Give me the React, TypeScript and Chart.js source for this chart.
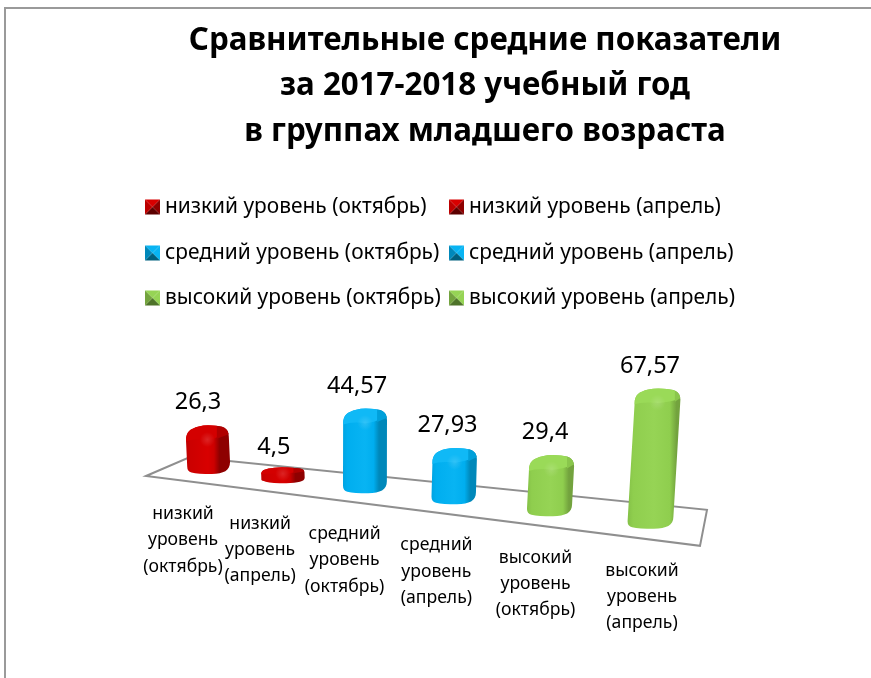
import React, { useEffect, useRef } from "react";
import { Chart, registerables } from "chart.js";

Chart.register(...registerables);

const titleLines = [
  "Сравнительные средние показатели",
  "за 2017-2018 учебный год",
  "в группах младшего возраста",
];
const categories = [
  "низкий уровень (октябрь)",
  "низкий уровень (апрель)",
  "средний уровень (октябрь)",
  "средний уровень (апрель)",
  "высокий уровень (октябрь)",
  "высокий уровень (апрель)",
];
const values = [26.3, 4.5, 44.57, 27.93, 29.4, 67.57];
const red = { main: "#CC0000", light: "#D80000", edge: "#BC0000", side: "#8E0000", cap: "#D40000", capSide: "#B00000", low: "#5C0000" };
const blue = { main: "#00AEEF", light: "#08B4F3", edge: "#00A2E0", side: "#0088BA", cap: "#10B9F6", capSide: "#00A0DA", low: "#00607F" };
const green = { main: "#8FCE4E", light: "#96D455", edge: "#82BE46", side: "#73A33E", cap: "#9ADA58", capSide: "#8AC64C", low: "#4E7329" };
const palettes = [red, red, blue, blue, green, green];

const FONT = "'Noto Sans', sans-serif";
const fmt = (v: number) => String(v).replace(".", ",");

const projection = {
  id: "projection",
  afterLayout(chart: any) {
    const center = 485;
    chart.titleBlock.left = center - 340;
    chart.titleBlock.right = center + 340;
  },
  afterDatasetsUpdate(chart: any) {
    const xs = chart.scales.x;
    const ys = chart.scales.y;
    const x0 = xs.getPixelForValue(0);
    const span = xs.getPixelForValue(5) - x0;
    const y0 = ys.getPixelForValue(0);
    const unit = y0 - ys.getPixelForValue(1);
    chart.getDatasetMeta(0).data.forEach((el: any) => {
      const t = (el.x - x0) / span;
      const X = x0 + span * (t - 0.2 * t * (1 - t));
      const tp = (X - x0) / span;
      const base = y0 + 0.123 * (X - x0);
      const h = Math.max(16, 4 + (y0 - el.y) * ((1.7 + 0.32 * tp) / unit));
      el.$tp = tp;
      el.x = X;
      el.base = base;
      el.y = base - h;
      el.width = el.width * (1 + 0.07 * tp);
    });
  },
  beforeDraw(chart: any) {
    const ctx = chart.ctx;
    ctx.save();
    ctx.strokeStyle = "#9a9a9a";
    ctx.lineWidth = 2;
    ctx.beginPath();
    ctx.moveTo(5, chart.height);
    ctx.lineTo(5, 8);
    ctx.lineTo(chart.width, 8);
    ctx.stroke();
    ctx.restore();
    drawLegend(chart);
  },
  beforeDatasetsDraw(chart: any) {
    const ctx = chart.ctx;
    const d = chart.getDatasetMeta(0).data;
    const a = d[0];
    const b = d[5];
    ctx.save();
    ctx.strokeStyle = "#8f8f8f";
    ctx.lineWidth = 2;
    ctx.lineJoin = "miter";
    ctx.beginPath();
    ctx.moveTo(a.x - 62, a.base + 2);
    ctx.lineTo(a.x - 18, a.base - 17);
    ctx.lineTo(b.x + 53, b.base - 19);
    ctx.lineTo(b.x + 46, b.base + 17);
    ctx.closePath();
    ctx.stroke();
    ctx.restore();
  },
  beforeDatasetDraw(chart: any) {
    const ctx = chart.ctx;
    chart.getDatasetMeta(0).data.forEach((el: any, i: number) => drawBar(ctx, el, palettes[i]));
    return false;
  },
  afterDatasetsDraw(chart: any) {
    const ctx = chart.ctx;
    const d = chart.getDatasetMeta(0).data;
    ctx.save();
    ctx.fillStyle = "#000";
    ctx.textAlign = "center";
    ctx.textBaseline = "middle";
    d.forEach((el: any, i: number) => {
      const dx = -10 + 6 * el.$tp;
      ctx.font = `23.5px ${FONT}`;
      ctx.fillText(fmt(values[i]), el.x + dx, el.y - (values[i] < 10 ? 20 : 22.5));
      const lines = categories[i].split(" ");
      ctx.font = `17.6px ${FONT}`;
      const lx = el.x - 25 + 13 * el.$tp;
      lines.forEach((line, j) => ctx.fillText(line, lx, el.base + 40 + 2 * el.$tp + j * 26.3));
    });
    ctx.restore();
  },
};

function drawLegend(chart: any) {
  const ctx = chart.ctx;
  const cols = [145, 449];
  const rows = [207, 253, 298];
  ctx.save();
  ctx.font = `20.9px ${FONT}`;
  ctx.textBaseline = "middle";
  ctx.textAlign = "left";
  categories.forEach((label, i) => {
    const x = cols[i % 2];
    const y = rows[Math.floor(i / 2)];
    const p = palettes[i];
    const s = 15;
    const l = x;
    const t = y - 7.5;
    const cx = l + s / 2;
    const cy = t + s / 2;
    const faces: [number[], string][] = [
      [[l, t, l + s, t], p.light],
      [[l + s, t, l + s, t + s], p === red ? p.side : p.light],
      [[l + s, t + s, l, t + s], p.low],
      [[l, t + s, l, t], p === red ? p.edge : p.side],
    ];
    faces.forEach(([q, color]) => {
      ctx.fillStyle = color;
      ctx.beginPath();
      ctx.moveTo(q[0], q[1]);
      ctx.lineTo(q[2], q[3]);
      ctx.lineTo(cx, cy);
      ctx.closePath();
      ctx.fill();
    });
    ctx.fillStyle = "#000";
    ctx.fillText(label, x + 20, y);
  });
  ctx.restore();
}

function drawBar(ctx: any, el: any, p: any) {
  const tp = el.$tp;
  const hw = el.width / 2;
  const top = el.y;
  const bot = el.base;
  const h = bot - top;
  const lean = (-0.025 + 0.075 * tp) * h;
  const xb = el.x - lean / 2;
  const xt = el.x + lean / 2;
  const r = Math.min(15, h * 0.42);
  ctx.save();
  ctx.beginPath();
  ctx.moveTo(xt - hw, top + r);
  ctx.bezierCurveTo(xt - hw, top + r * 0.45, xt - hw * 0.8, top + r * 0.22, xt - hw * 0.4, top + r * 0.08);
  ctx.quadraticCurveTo(xt - hw * 0.1, top - 0.5, xt + hw * 0.25, top + 0.3);
  ctx.bezierCurveTo(xt + hw * 0.7, top + 0.8, xt + hw, top + r * 0.15, xt + hw, top + r * 0.75);
  ctx.lineTo(xb + hw, bot - r * 0.8);
  ctx.bezierCurveTo(xb + hw, bot - r * 0.2, xb + hw * 0.7, bot - 0.5, xb + hw * 0.15, bot);
  ctx.quadraticCurveTo(xb - hw * 0.5, bot, xb - hw * 0.8, bot - 1.5);
  ctx.quadraticCurveTo(xb - hw, bot - 2.5, xb - hw, bot - r * 0.5);
  ctx.closePath();
  ctx.clip();

  const minX = Math.min(xb, xt) - hw - 1;
  const maxX = Math.max(xb, xt) + hw + 1;
  const sideAt = 0.7 + 0.16 * tp;
  const g = ctx.createLinearGradient(minX, 0, maxX, 0);
  g.addColorStop(0, p.edge);
  g.addColorStop(0.12, p.main);
  g.addColorStop(0.5, p.light);
  g.addColorStop(sideAt - 0.07, p.main);
  g.addColorStop(sideAt + 0.05, p.side);
  g.addColorStop(1, p.side);
  ctx.fillStyle = g;
  ctx.fillRect(minX, top - 1, maxX - minX, h + 2);

  const sideX = xt - hw + 2 * hw * (sideAt + 0.02);
  ctx.fillStyle = p.capSide;
  ctx.beginPath();
  ctx.moveTo(sideX, top - 1);
  ctx.lineTo(xt + hw + 2, top - 1);
  ctx.lineTo(xt + hw + 2, top + r * 0.55);
  ctx.lineTo(sideX, top + r * 0.9);
  ctx.closePath();
  ctx.fill();

  ctx.fillStyle = p.cap;
  ctx.beginPath();
  ctx.moveTo(xt - hw - 2, top - 1);
  ctx.lineTo(sideX, top - 1);
  ctx.lineTo(sideX, top + r * 0.8);
  ctx.quadraticCurveTo(xt + hw * 0.15, top + r * 1.02, xt, top + r * 0.98);
  ctx.quadraticCurveTo(xt - hw * 0.6, top + r * 0.85, xt - hw - 2, top + r * 1.1);
  ctx.closePath();
  ctx.fill();

  const spot = ctx.createRadialGradient(xt, top + r * 0.95, 0, xt, top + r * 0.95, hw * 0.35);
  spot.addColorStop(0, "rgba(255,255,255,0.14)");
  spot.addColorStop(1, "rgba(255,255,255,0)");
  ctx.fillStyle = spot;
  ctx.fillRect(minX, top, maxX - minX, r * 2.2);
  ctx.restore();
}

export default function App() {
  const ref = useRef<HTMLCanvasElement>(null);
  useEffect(() => {
    const chart = new Chart(ref.current as HTMLCanvasElement, {
      type: "bar",
      data: {
        labels: categories,
        datasets: [{ data: values, backgroundColor: palettes.map((p) => p.main), barPercentage: 0.48, categoryPercentage: 1 }],
      },
      options: {
        responsive: false,
        animation: false,
        layout: { padding: { left: 163.4, right: 172.4, top: 8, bottom: 204 } },
        plugins: {
          legend: { display: false },
          tooltip: { enabled: false },
          title: {
            display: true,
            text: titleLines,
            color: "#000",
            font: { family: FONT, size: 31.3, weight: "bold", lineHeight: 1.454 },
            padding: { top: 10, bottom: 180 },
          },
        },
        scales: {
          x: { display: false },
          y: { display: false, min: 0, max: 70 },
        },
      },
      plugins: [projection],
    } as any);
    return () => chart.destroy();
  }, []);
  return (
    <div style={{ position: "fixed", left: 0, top: 0, width: 871, height: 678, background: "#fff" }}>
      <canvas ref={ref} width={871} height={678} style={{ display: "block" }} />
    </div>
  );
}
